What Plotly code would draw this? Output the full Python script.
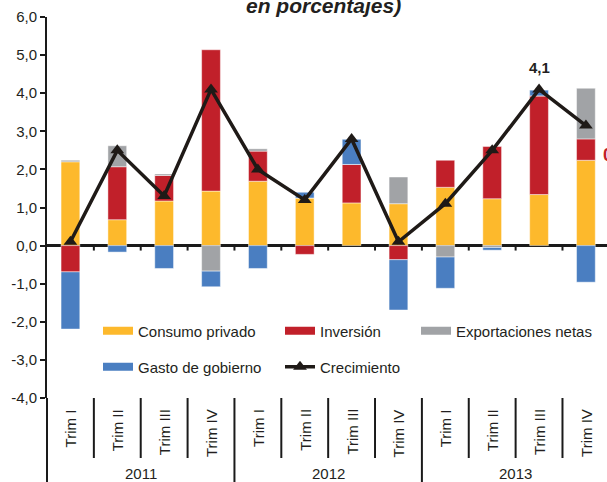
import plotly.graph_objects as go

# datos (contribuciones al crecimiento, puntos porcentuales)
YEARS = ["2011", "2012", "2013"]
QUARTERS = ["Trim I", "Trim II", "Trim III", "Trim IV"]

consumo = [2.20, 0.68, 1.17, 1.43, 1.69, 1.25, 1.12, 1.10, 1.53, 1.23, 1.34, 2.24]
inversion = [-0.69, 1.39, 0.67, 3.71, 0.79, -0.23, 1.01, -0.37, 0.71, 1.37, 2.59, 0.56]
exportaciones = [0.04, 0.55, 0.04, -0.67, 0.06, 0.0, 0.0, 0.70, -0.30, -0.05, 0.0, 1.33]
gasto = [-1.50, -0.17, -0.60, -0.41, -0.60, 0.15, 0.66, -1.32, -0.82, -0.07, 0.15, -0.96]
crecimiento = [0.1, 2.5, 1.3, 4.1, 2.0, 1.2, 2.8, 0.1, 1.1, 2.5, 4.1, 3.15]

Y_TICKS = [-4, -3, -2, -1, 0, 1, 2, 3, 4, 5, 6]
Y_TICK_TEXT = ["-4,0", "-3,0", "-2,0", "-1,0", "0,0", "1,0", "2,0", "3,0", "4,0", "5,0", "6,0"]

COLORS = {
    "consumo": "#FDB92C",
    "inversion": "#C1202A",
    "exportaciones": "#A1A3A6",
    "gasto": "#4A7EC1",
    "linea": "#1F1A17",
}
FONT = "Liberation Sans, Arial, sans-serif"
TXT = "#231F20"
FS = 15

W, H = 607, 482
M_L, M_R, M_T, M_B = 47, 0, 17, 84
PLOT_H = H - M_T - M_B
PLOT_W = W - M_L - M_R


def py(px):
    """pixel vertical -> coordenada paper"""
    return (H - M_B - px) / PLOT_H


def pxx(px):
    """pixel horizontal -> coordenada paper"""
    return (px - M_L) / PLOT_W


cats = [f"{q} {y}" for y in YEARS for q in QUARTERS]

fig = go.Figure()

bar_series = [
    ("Consumo privado", consumo, "consumo", "legend"),
    ("Inversión", inversion, "inversion", "legend2"),
    ("Exportaciones netas", exportaciones, "exportaciones", "legend3"),
    ("Gasto de gobierno", gasto, "gasto", "legend4"),
]
for name, vals, key, leg in bar_series:
    fig.add_trace(go.Bar(
        x=cats, y=vals, name=name, width=0.4, showlegend=False,
        marker=dict(color=COLORS[key], line=dict(color="rgba(255,255,255,0.45)", width=1)),
    ))
    # entrada de leyenda con muestra rectangular ancha
    fig.add_trace(go.Scatter(
        x=[None], y=[None], name=name, mode="lines",
        line=dict(color=COLORS[key], width=8), legend=leg,
    ))

fig.add_trace(go.Scatter(
    x=cats, y=crecimiento, name="Crecimiento", mode="lines+markers",
    line=dict(color=COLORS["linea"], width=3.5),
    marker=dict(symbol="triangle-up", size=12, color=COLORS["linea"]),
    legend="legend5",
))

# etiquetas del eje x (trimestres y años)
annotations = []
for i, c in enumerate(cats):
    annotations.append(dict(
        x=c, xref="x", y=py(407), yref="paper", text=QUARTERS[i % 4],
        textangle=-90, showarrow=False, xanchor="center", yanchor="top",
        font=dict(size=FS, color=TXT, family=FONT),
    ))
for j, yr in enumerate(YEARS):
    annotations.append(dict(
        x=j * 4 + 1.5, xref="x", y=py(473), yref="paper", text=yr,
        showarrow=False, xanchor="center", yanchor="middle",
        font=dict(size=FS, color=TXT, family=FONT),
    ))

annotations.append(dict(
    x=cats[10], xref="x", y=crecimiento[10], yref="y", text="<b>4,1</b>",
    showarrow=False, yanchor="bottom", yshift=11,
    font=dict(size=FS, color=TXT, family=FONT),
))
annotations.append(dict(
    x=pxx(601), xref="paper", y=py(155), yref="paper", text="<b>0,6</b>",
    showarrow=False, xanchor="left", yanchor="middle",
    font=dict(size=18, color=COLORS["inversion"], family=FONT),
))
annotations.append(dict(
    x=pxx(323), xref="paper", y=py(5), yref="paper", text="<b><i>en porcentajes)</i></b>",
    showarrow=False, xanchor="center", yanchor="middle",
    font=dict(size=21, color=TXT, family=FONT),
))

# separadores y marcas
shapes = []
line_style = dict(color="#1A1A1A", width=2)
for k in range(11):
    xb = k + 0.5
    bottom = py(482) if (k + 1) % 4 == 0 else py(458)
    shapes.append(dict(type="line", xref="x", yref="paper", x0=xb, x1=xb,
                       y0=0, y1=bottom, line=line_style))
    shapes.append(dict(type="line", xref="x", yref="y", x0=xb, x1=xb,
                       y0=0, y1=-0.13, line=line_style))
shapes.append(dict(type="line", xref="paper", yref="paper", x0=0, x1=0,
                   y0=0, y1=py(482), line=line_style))

legend_base = dict(
    orientation="h", xanchor="left", yanchor="middle", bgcolor="rgba(0,0,0,0)",
    font=dict(size=FS, color=TXT, family=FONT),
)

fig.update_layout(
    width=W, height=H,
    margin=dict(l=M_L, r=M_R, t=M_T, b=M_B),
    paper_bgcolor="white", plot_bgcolor="white",
    barmode="relative", bargap=0.6,
    showlegend=True,
    font=dict(family=FONT, color=TXT, size=FS),
    xaxis=dict(
        type="category", range=[-0.5, 11.45], showticklabels=False,
        showline=False, showgrid=False, zeroline=False, ticks="",
    ),
    yaxis=dict(
        range=[-4, 6], tickvals=Y_TICKS, ticktext=Y_TICK_TEXT,
        showline=True, linecolor="#1A1A1A", linewidth=2,
        ticks="outside", ticklen=5, tickwidth=2, tickcolor="#1A1A1A",
        showgrid=False, zeroline=True, zerolinecolor="#1A1A1A", zerolinewidth=2.5,
        tickfont=dict(size=FS, color=TXT, family=FONT),
    ),
    legend={**legend_base, "x": pxx(98), "y": py(331)},
    legend2={**legend_base, "x": pxx(280), "y": py(331)},
    legend3={**legend_base, "x": pxx(416), "y": py(331)},
    legend4={**legend_base, "x": pxx(98), "y": py(367)},
    legend5={**legend_base, "x": pxx(280), "y": py(367)},
    annotations=annotations,
    shapes=shapes,
)

# sin margen del <body> para que la figura ocupe la ventana exacta
fig.write_html("out.html", config={"displayModeBar": False},
               post_script="document.body.style.margin='0';")
